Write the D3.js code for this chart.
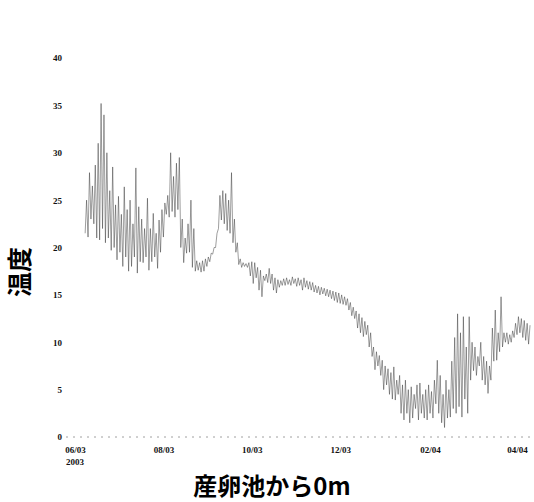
<!DOCTYPE html>
<html>
<head>
<meta charset="utf-8">
<script src="https://cdn.jsdelivr.net/npm/d3@7"></script>
<style>
  html, body { margin: 0; padding: 0; background: #fff; }
  svg { display: block; }
</style>
</head>
<body>
<svg id="chart" width="534" height="502"></svg>
<script>
// Water temperature logged every second day, 0 m from the spawning pond.
// First reading 2003-06-08; each entry holds the low and high of that period.
const firstDay = "2003-06-08";
const tMin = [
  21.5, 21.1, 23.0, 22.5, 21.0, 20.8, 22.0, 20.5, 21.0, 19.7,
  20.0, 18.7, 19.5, 18.0, 19.0, 17.5, 18.0, 19.0, 17.3, 18.5,
  18.4, 19.0, 17.6, 18.5, 19.0, 17.8, 19.5, 21.1, 23.5, 23.2,
  23.8, 23.2, 24.0, 20.0, 18.4, 19.4, 19.5, 17.9, 17.5, 17.6,
  17.4, 17.5, 18.0, 18.5, 19.3, 20.0, 22.0, 22.9, 22.5, 21.8,
  21.5, 20.5, 19.5, 18.2, 17.9, 18.0, 17.9, 17.0, 16.2, 16.8,
  15.5, 14.8, 16.5, 16.3, 16.2, 15.5, 15.2, 15.8, 16.0, 16.0,
  16.1, 16.0, 16.2, 15.9, 16.0, 15.5, 15.8, 15.6, 15.5, 15.3,
  15.2, 15.0, 15.1, 14.9, 14.8, 14.6, 14.4, 14.2, 14.1, 14.0,
  13.9, 13.4, 12.8, 12.5, 11.5, 11.0, 10.6, 10.8, 9.5, 8.5,
  7.1, 7.5, 6.5, 5.0, 5.5, 4.5, 4.0, 3.9, 4.5, 2.5,
  1.8, 2.5, 1.5, 2.0, 3.0, 1.8, 2.5, 2.0, 1.8, 2.5,
  2.0, 3.5, 2.5, 1.5, 1.0, 2.0, 2.1, 3.0, 2.5, 3.2,
  2.1, 4.0, 2.5, 6.0, 7.0, 6.5, 7.5, 6.0, 5.5, 4.6,
  6.0, 8.0, 8.1, 9.0, 9.5, 10.0, 9.8, 10.0, 10.5, 10.8,
  11.0, 10.5, 10.2, 9.8
];
const tMax = [
  25.0, 27.9, 26.5, 28.7, 31.0, 35.2, 34.0, 30.0, 26.0, 28.5,
  24.5, 25.4, 23.5, 26.4, 24.0, 25.0, 22.5, 28.4, 24.3, 23.0,
  22.0, 25.2, 22.0, 23.6, 21.5, 22.9, 24.0, 24.7, 25.5, 30.0,
  27.5, 28.9, 29.5, 23.0, 21.0, 22.5, 25.0, 22.0, 18.6, 18.4,
  18.6, 18.8, 19.0, 19.4, 20.0, 21.5, 25.5, 26.0, 25.7, 25.0,
  27.9, 23.0, 20.5, 18.8, 18.4, 18.3, 18.4, 18.5, 18.4, 17.9,
  17.6, 17.0, 17.2, 17.8, 17.2, 16.8, 16.6, 16.5, 16.7, 16.8,
  16.6, 16.9, 16.7, 16.8, 16.6, 16.8, 16.5, 16.4, 16.3, 16.0,
  15.9, 15.8, 15.7, 15.6, 15.5, 15.4, 15.3, 15.2, 15.0, 14.8,
  14.6, 14.2, 13.7, 13.3, 13.0, 12.6, 12.2, 11.8, 11.0, 9.5,
  9.0, 8.6, 8.1, 7.5, 7.2, 6.8, 7.4, 6.0, 6.5, 5.5,
  6.0, 5.0, 5.3, 4.5, 5.5, 5.7, 4.5, 5.0, 5.5, 4.8,
  6.0, 8.1, 6.5, 4.5, 6.0, 5.0, 8.0, 10.5, 13.0, 11.0,
  12.7, 9.5, 12.7, 10.0, 9.5, 8.5, 10.0, 8.5, 8.0, 7.5,
  11.5, 13.4, 11.0, 14.8, 11.0, 11.0, 10.8, 11.2, 12.0, 12.7,
  12.5, 12.3, 12.0, 11.8
];
const yTicks = [0, 5, 10, 15, 20, 25, 30, 35, 40];
const xTickMonths = ["2003-06-01", "2003-08-01", "2003-10-01", "2003-12-01", "2004-02-01", "2004-04-01"];
const yTitle = "温度";
const xTitle = "産卵池から0m";

const parse = d3.timeParse("%Y-%m-%d");
const start = parse(firstDay);
const days = tMin.map((_, i) => d3.timeDay.offset(start, 2 * i));

// Zig-zag through each period: low at the start, high one day later.
const points = [];
days.forEach((d, i) => {
  points.push([d, tMin[i]]);
  points.push([d3.timeDay.offset(d, 1), tMax[i]]);
});

const svg = d3.select("#chart");

const x = d3.scaleTime()
  .domain([parse("2003-06-01"), parse("2004-04-01")])
  .range([75, 517]);
const y = d3.scaleLinear().domain([0, 40]).range([437, 58]);

// Faint dotted baseline at 0
svg.append("line")
  .attr("x1", 66).attr("x2", 534)
  .attr("y1", y(0)).attr("y2", y(0))
  .attr("stroke", "#a0a0a0")
  .attr("stroke-width", 1)
  .attr("stroke-dasharray", "2,5");

const tickFont = sel => sel
  .attr("font-family", "'Liberation Serif', serif")
  .attr("font-weight", "bold")
  .attr("font-size", 9)
  .attr("fill", "#111");

// Y axis (labels only)
const yAxis = svg.append("g")
  .attr("transform", "translate(62,0)")
  .call(d3.axisLeft(y).tickValues(yTicks).tickSize(0).tickPadding(0));
yAxis.select(".domain").remove();
yAxis.selectAll("text").call(tickFont);

// X axis (labels only)
const xAxis = svg.append("g")
  .attr("transform", `translate(0,${y(0) + 10})`)
  .call(d3.axisBottom(x)
    .tickValues(xTickMonths.map(parse))
    .tickFormat(d3.timeFormat("%m/%y"))
    .tickSize(0).tickPadding(0));
xAxis.select(".domain").remove();
xAxis.selectAll("text").call(tickFont);
xAxis.append("text")
  .attr("x", x(parse(xTickMonths[0])))
  .attr("y", 18)
  .attr("text-anchor", "middle")
  .call(tickFont)
  .text("2003");

// Temperature trace
const line = d3.line()
  .x(d => x(d[0]))
  .y(d => y(d[1]));
svg.append("path")
  .datum(points)
  .attr("d", line)
  .attr("fill", "none")
  .attr("stroke", "#333")
  .attr("stroke-width", 0.6)
  .attr("stroke-opacity", 0.8);

// Titles
svg.append("text")
  .attr("transform", "translate(29,272) rotate(-90)")
  .attr("text-anchor", "middle")
  .attr("font-family", "'Noto Sans CJK JP', sans-serif")
  .attr("font-weight", "bold")
  .attr("font-size", 25)
  .attr("fill", "#000")
  .text(yTitle);

svg.append("text")
  .attr("x", 272)
  .attr("y", 495)
  .attr("text-anchor", "middle")
  .attr("font-family", "'Noto Sans CJK JP', sans-serif")
  .attr("font-weight", "bold")
  .attr("font-size", 24)
  .attr("fill", "#000")
  .text(xTitle);
</script>
</body>
</html>
